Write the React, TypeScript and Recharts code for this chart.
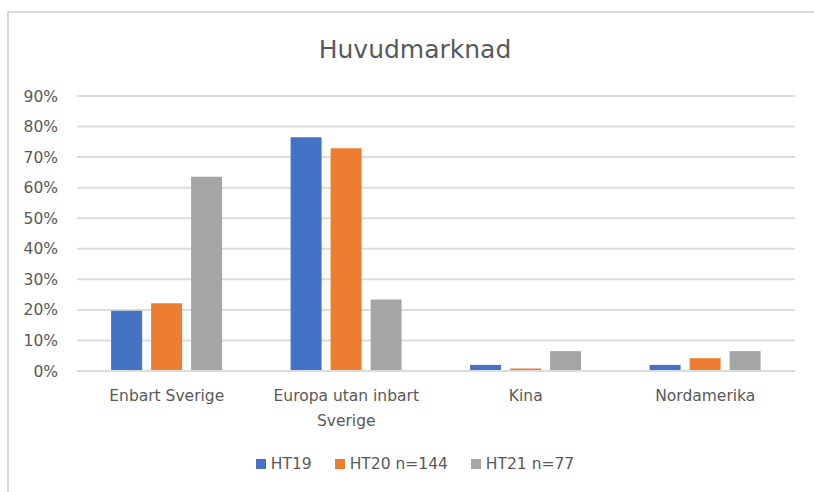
import React from "react";
import { BarChart, Bar, XAxis, YAxis, CartesianGrid, Legend, Text } from "recharts";

const categories = ["Enbart Sverige", "Europa utan inbart Sverige", "Kina", "Nordamerika"];
const ht19 = [19.7, 76.5, 2.0, 2.0];
const ht20 = [22.2, 72.9, 0.8, 4.2];
const ht21 = [63.6, 23.4, 6.5, 6.5];
const seriesNames = ["HT19", "HT20 n=144", "HT21 n=77"];
const seriesColors = ["#4472C4", "#ED7D31", "#A5A5A5"];
const yTicks = [0, 10, 20, 30, 40, 50, 60, 70, 80, 90];
const title = "Huvudmarknad";

const FONT = "'DejaVu Sans', sans-serif";
const TEXT_COLOR = "#595959";
const FS = 15.5;

const data = categories.map((c, i) => ({
  name: c,
  s0: ht19[i],
  s1: ht20[i],
  s2: ht21[i],
}));

const XTick = (props: any) => {
  const { x, y, payload } = props;
  return (
    <Text
      x={x}
      y={y}
      width={172}
      textAnchor="middle"
      verticalAnchor="start"
      lineHeight={25}
      fill={TEXT_COLOR}
      style={{ fontFamily: FONT, fontSize: FS }}
      fontSize={FS}
      fontFamily={FONT}
    >
      {payload.value}
    </Text>
  );
};

const LegendContent = () => (
  <div style={{ display: "flex", justifyContent: "center", fontFamily: FONT, fontSize: FS, color: TEXT_COLOR }}>
    {seriesNames.map((n, i) => (
      <div key={n} style={{ display: "flex", alignItems: "center", marginRight: i < 2 ? 23 : 0 }}>
        <span style={{ display: "inline-block", width: 10, height: 10, background: seriesColors[i], marginRight: 5 }} />
        <span>{n}</span>
      </div>
    ))}
  </div>
);

export default function App() {
  return (
    <div style={{ position: "absolute", left: 0, top: 0, width: 814, height: 492, background: "#fff", overflow: "hidden" }}>
      <div
        style={{
          position: "absolute",
          left: 7,
          top: 11,
          width: 814,
          height: 492,
          borderTop: "2px solid #D9D9D9",
          borderLeft: "2px solid #D9D9D9",
        }}
      />
      <div
        style={{
          position: "absolute",
          left: 0,
          width: 830,
          top: 34,
          textAlign: "center",
          fontFamily: FONT,
          fontSize: 25,
          color: TEXT_COLOR,
          lineHeight: "32px",
        }}
      >
        {title}
      </div>
      <div style={{ position: "absolute", left: 0, top: 0 }}>
        <BarChart
          width={814}
          height={492}
          data={data}
          margin={{ top: 96, right: 19, left: 0, bottom: 61 }}
          barCategoryGap="19%"
          barGap={9}
        >
          <CartesianGrid vertical={false} stroke="#DCDCDC" strokeWidth={2} />
          <XAxis
            dataKey="name"
            height={60}
            tickLine={false}
            axisLine={{ stroke: "#DCDCDC", strokeWidth: 2 }}
            tickSize={6}
            tickMargin={13}
            interval={0}
            tick={<XTick />}
          />
          <YAxis
            width={77}
            domain={[0, 90]}
            ticks={yTicks}
            interval={0}
            tickLine={false}
            axisLine={false}
            tickSize={6}
            tickMargin={13}
            tickFormatter={(v: number) => `${v}%`}
            tick={{ fill: TEXT_COLOR, fontSize: FS, fontFamily: FONT }}
          />
          <Legend
            layout="horizontal"
            verticalAlign="middle"
            align="center"
            wrapperStyle={{ position: "absolute", top: 455, left: 8, width: 814, height: 20 }}
            content={<LegendContent />}
          />
          <Bar dataKey="s0" name={seriesNames[0]} fill={seriesColors[0]} isAnimationActive={false} />
          <Bar dataKey="s1" name={seriesNames[1]} fill={seriesColors[1]} isAnimationActive={false} />
          <Bar dataKey="s2" name={seriesNames[2]} fill={seriesColors[2]} isAnimationActive={false} />
        </BarChart>
      </div>
    </div>
  );
}
